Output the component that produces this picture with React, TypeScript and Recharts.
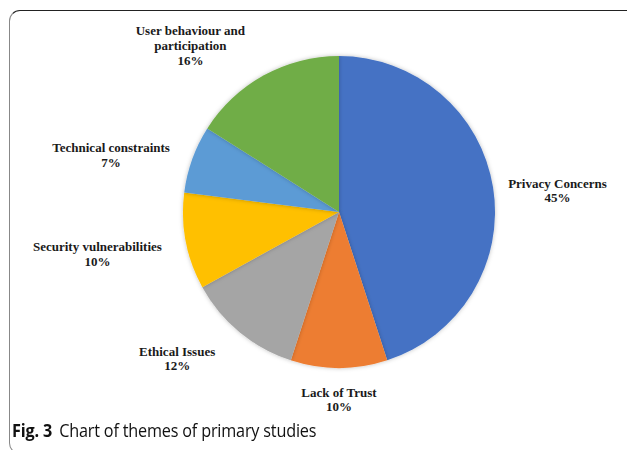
import React from "react";
import { PieChart, Pie, Cell } from "recharts";

const categories = [
  "Privacy Concerns",
  "Lack of Trust",
  "Ethical Issues",
  "Security vulnerabilities",
  "Technical constraints",
  "User behaviour and participation",
];
const values = [45, 10, 12, 10, 7, 16];
const labelLines = [
  ["Privacy Concerns"],
  ["Lack of Trust"],
  ["Ethical Issues"],
  ["Security vulnerabilities"],
  ["Technical constraints"],
  ["User behaviour and", "participation"],
];
const colors = ["#4472C4", "#ED7D31", "#A5A5A5", "#FFC000", "#5B9BD5", "#70AD47"];

const data = categories.map((name, i) => ({ name, value: values[i] }));

const FONT_SIZE = 13;
const LINE_H = 14.8;
const CHAR_W = 5.9;

const renderLabel = (props: any) => {
  const { cx, cy, midAngle, outerRadius, index, percent } = props;
  const RAD = Math.PI / 180;
  const c = Math.cos(-midAngle * RAD);
  const s = Math.sin(-midAngle * RAD);
  const lines = [...labelLines[index], `${Math.round(percent * 100)}%`];
  const w = Math.max(...lines.map((l) => l.length)) * CHAR_W;
  const h = lines.length * LINE_H;
  const gap = 15;
  const px = cx + (outerRadius + gap) * c;
  const py = cy + (outerRadius + gap) * s;
  const side = Math.max(-1, Math.min(1, c * 3));
  const mx = px + side * (w / 2 + 15 * Math.abs(s));
  const my = py + s * (h / 2) + 2 + 7 * (1 - Math.abs(s));
  const top = my - h / 2;
  return (
    <text
      x={mx}
      y={top}
      textAnchor="middle"
      fontFamily="'Liberation Serif', 'Times New Roman', serif"
      fontWeight="bold"
      fontSize={FONT_SIZE}
      fill="#1a1a1a"
    >
      {lines.map((l, i) => (
        <tspan key={i} x={mx} y={top + LINE_H * (i + 0.78)}>
          {l}
        </tspan>
      ))}
    </text>
  );
};

export default function App() {
  return (
    <div
      style={{
        position: "absolute",
        left: 0,
        top: 0,
        width: 627,
        height: 450,
        overflow: "hidden",
        background: "#fff",
      }}
    >
      <div
        style={{
          position: "absolute",
          left: 9,
          top: 10,
          width: 640,
          height: 442,
          borderTop: "1.5px solid #222",
          borderLeft: "1.5px solid #888",
          borderBottom: "1.5px solid #888",
          borderRadius: "11px 0 0 11px",
        }}
      />
      <div style={{ position: "absolute", left: 0, top: 0 }}>
        <PieChart width={627} height={420} margin={{ top: 0, right: 0, bottom: 0, left: 0 }}>
          <defs>
            <filter id="pieShadow" x="-10%" y="-10%" width="120%" height="120%">
              <feDropShadow dx="0" dy="0" stdDeviation="2" floodColor="#000" floodOpacity="0.25" />
            </filter>
          </defs>
          <Pie
            data={data}
            dataKey="value"
            nameKey="name"
            cx={339}
            cy={212}
            outerRadius={156}
            startAngle={90}
            endAngle={-270}
            stroke="none"
            label={renderLabel}
            labelLine={false}
            isAnimationActive={false}
            style={{ filter: "url(#pieShadow)" }}
          >
            {data.map((d, i) => (
              <Cell key={d.name} fill={colors[i]} />
            ))}
          </Pie>
        </PieChart>
      </div>
      <div
        style={{
          position: "absolute",
          left: 12,
          top: 418,
          fontFamily: "'Open Sans', 'Noto Sans', sans-serif",
          fontSize: 18,
          color: "#111",
          whiteSpace: "nowrap",
          transform: "scaleX(0.9)",
          transformOrigin: "left center",
          letterSpacing: -0.2,
        }}
      >
        <span style={{ fontWeight: 700 }}>Fig. 3</span>
        <span style={{ marginLeft: 8 }}>Chart of themes of primary studies</span>
      </div>
    </div>
  );
}
